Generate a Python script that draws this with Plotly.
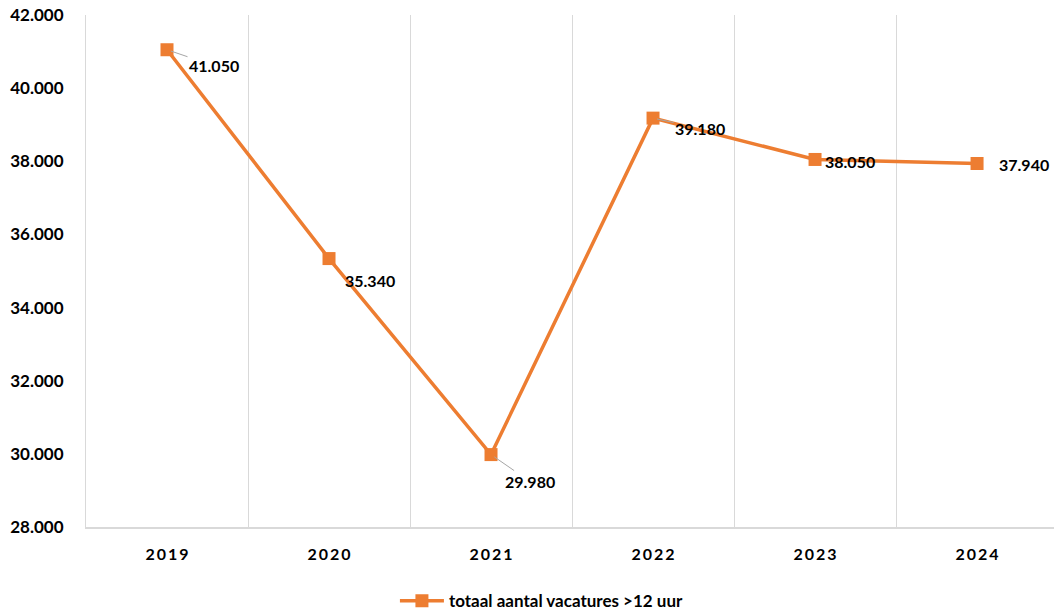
import plotly.graph_objects as go

# Data
years = ["2019", "2020", "2021", "2022", "2023", "2024"]
vacatures = [41050, 35340, 29980, 39180, 38050, 37940]
series_name = "totaal aantal vacatures >12 uur"

# label offsets (pixels) and whether a leader line is shown
label_dx = [47, 41, 39, 47, 35, 47]
label_dy = [16, 22, 27, 10, 2, 1]
leader = [True, False, True, True, False, False]

ORANGE = "#ED7D31"
GRID = "#D9D9D9"
FONT = "Lato, Calibri, sans-serif"

fig = go.Figure()
fig.add_trace(go.Scatter(
    x=years,
    y=vacatures,
    mode="lines+markers",
    name=series_name,
    line=dict(color=ORANGE, width=3.5),
    marker=dict(symbol="square", size=13, color=ORANGE),
))

for i, (v, dx, dy, ld) in enumerate(zip(vacatures, label_dx, label_dy, leader)):
    fig.add_annotation(
        xref="x", yref="y",
        x=i, y=v,
        text="<b>" + f"{v:,}".replace(",", ".") + "</b>",
        showarrow=True,
        ax=dx, ay=dy,
        arrowhead=0, arrowwidth=1,
        arrowcolor="#A6A6A6" if ld else "rgba(255,255,255,0)",
        standoff=4,
        font=dict(size=16, color="black", family=FONT),
    )

fig.update_layout(
    width=1054, height=613,
    paper_bgcolor="white",
    plot_bgcolor="white",
    separators=",.",
    font=dict(family=FONT, color="black"),
    margin=dict(l=86, r=0, t=15, b=86, autoexpand=False),
    showlegend=True,
    legend=dict(
        orientation="h",
        x=0.471, xanchor="center",
        y=-0.145, yanchor="middle",
        font=dict(size=17, family=FONT, weight="bold"),
        itemwidth=44,
    ),
)

fig.update_xaxes(
    type="category",
    range=[-0.5, 5.475],
    tickson="boundaries",
    showgrid=True, gridcolor=GRID, gridwidth=1,
    showline=True, linecolor=GRID, linewidth=1.5,
    ticks="",
    tickvals=years,
    ticktext=["\u2009".join(y) for y in years],
    tickfont=dict(size=16, family=FONT, weight="bold"),
    ticklabelstandoff=12,
)
fig.update_yaxes(
    range=[28000, 42000],
    dtick=2000,
    tickformat=",d",
    showgrid=False,
    zeroline=False,
    showline=True, linecolor=GRID, linewidth=1,
    tickfont=dict(size=17, family=FONT, weight="bold"),
    ticklabelstandoff=18,
    ticklabeloverflow="allow",
)

# drop the default page margin so the figure fills the window exactly
fig.write_html(
    "out.html",
    config={"displayModeBar": False},
    post_script="document.body.style.margin='0';document.body.style.overflow='hidden';",
)
